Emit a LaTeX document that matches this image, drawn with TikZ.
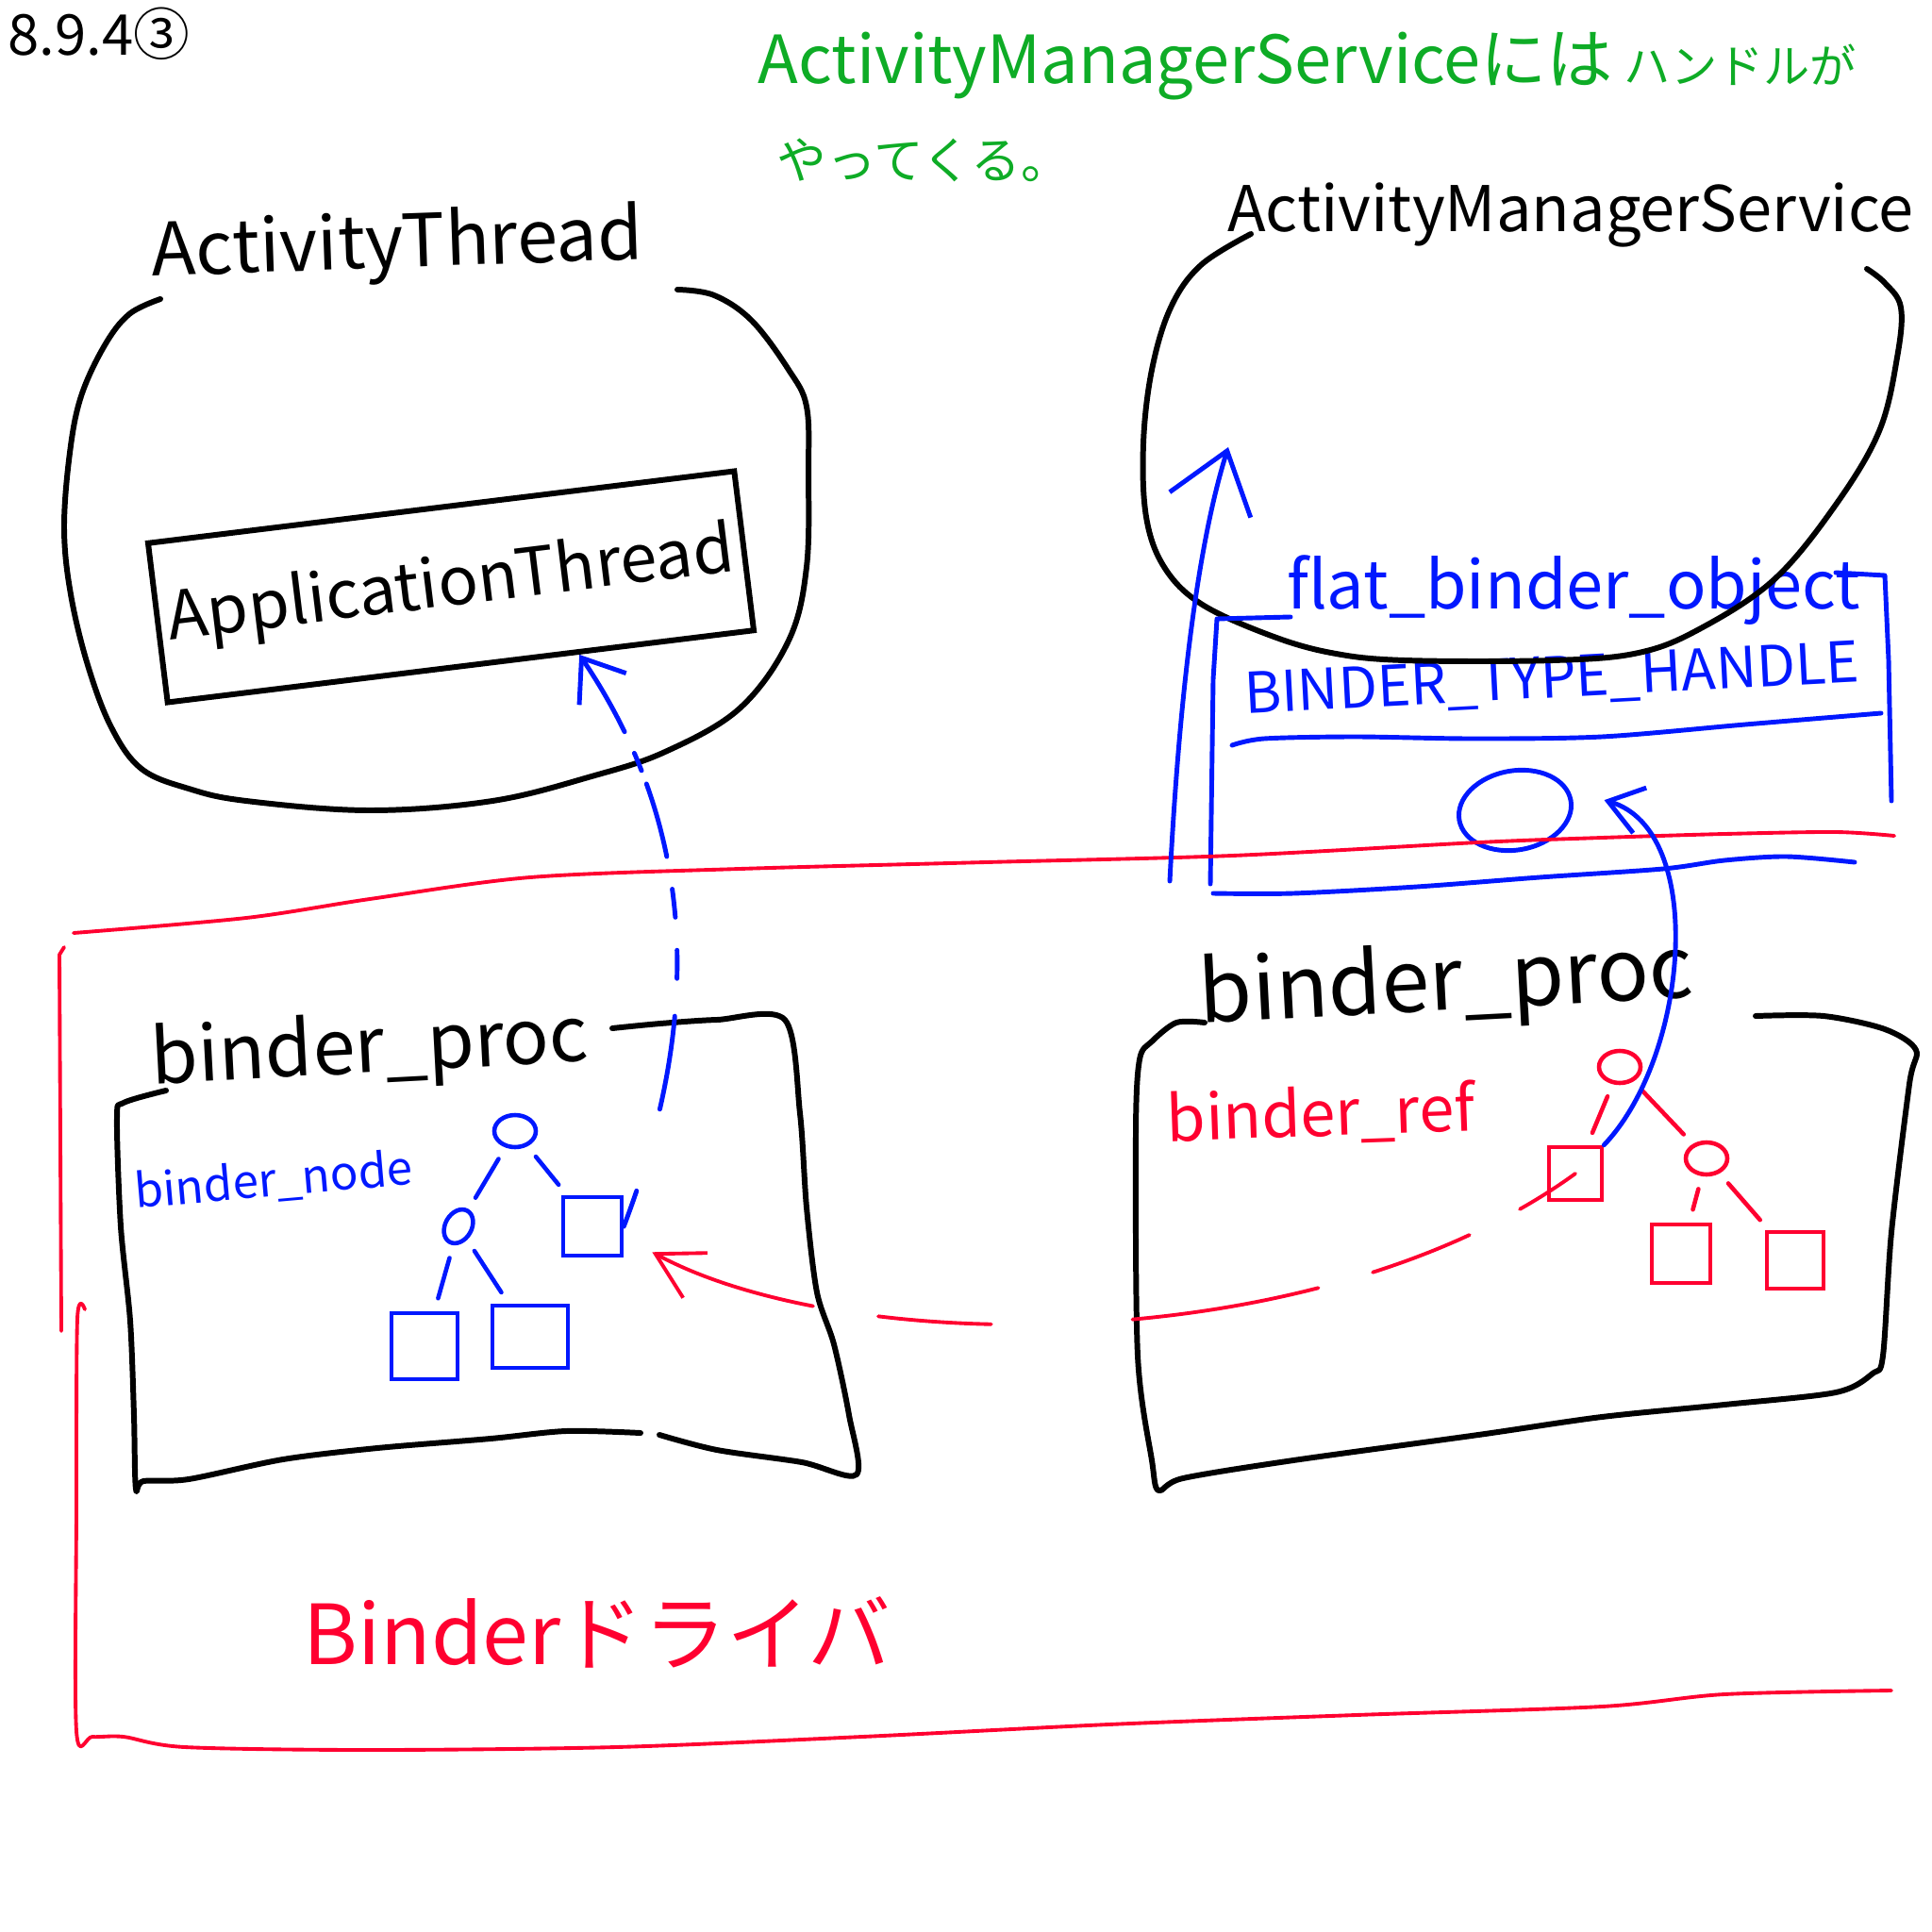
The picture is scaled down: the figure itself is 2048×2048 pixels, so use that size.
\documentclass[tikz,border=0pt]{standalone}
\usepackage{fontspec}
\setmainfont{Noto Sans CJK JP}
\usepackage{tikz}
\usetikzlibrary{arrows.meta,positioning,calc,shapes.geometric}
\definecolor{penblue}{RGB}{0,24,255}
\definecolor{penred}{RGB}{255,0,48}
\definecolor{pengreen}{RGB}{14,172,38}
\newcommand{\pen}[1]{\fontsize{#1}{#1}\selectfont}
\tikzset{
  ink/.style   ={draw, line width=1.7pt, line cap=round, line join=round},
  bink/.style  ={draw=penblue, line width=1.4pt, line cap=round, line join=round},
  rink/.style  ={draw=penred, line width=1.1pt, line cap=round, line join=round},
  knot/.style  ={ellipse, draw, line width=1.3pt, minimum width=4.4mm,
                 minimum height=3.4mm, inner sep=0pt},
  leaf/.style  ={rectangle, draw, line width=1.3pt, minimum size=6.2mm,
                 inner sep=0pt},
  twig/.style  ={line width=1.3pt, line cap=round, shorten <=1.4mm, shorten >=1.4mm},
  apbox/.style ={rectangle, draw, line width=1.7pt, rotate=7, minimum width=62.6mm,
                 minimum height=17mm, inner sep=0pt},
  word/.style  ={inner sep=0pt},
}

\begin{document}
\begin{tikzpicture}[x=0.1mm,y=-0.1mm]
\fill[white] (0,0) rectangle (2048,2048);
\useasboundingbox (0,0) rectangle (2048,2048);

% --- headings ---------------------------------------------------------
\node[word, font=\pen{17}] (secno) at (105,36) {8.9.4③};
\node[word, font=\pen{20}, text=pengreen, anchor=west] (memo) at (803,70)
  {ActivityManagerServiceには\,{\pen{14}ハンドルが}};
\node[word, font=\pen{15}, text=pengreen, below right=4mm and 2mm of memo.south west]
  (memob) {やってくる。};

% --- ActivityThread ---------------------------------------------------
\node[word, font=\pen{22}, rotate=2] (atname) at (421,262) {ActivityThread};
\draw[ink] plot[smooth, tension=0.6] coordinates {(170,317) (137,333) (111,366)
  (86,420) (74,480) (68,560) (75,630) (93,705) (118,771) (150,815) (200,836)
  (261,849) (392,859) (522,849) (627,823) (705,797) (784,751) (836,679)
  (855,601) (857,500) (855,431) (836,392) (797,340) (757,313) (718,307)};
\node[apbox, font=\pen{20}] (appthr) at (478,622) {ApplicationThread};

% --- ActivityManagerService -------------------------------------------
\node[word, font=\pen{19}] (amsname) at (1665,228) {ActivityManagerService};
\node[word, font=\pen{20}, text=penblue] (fbolbl) at (1668,626) {flat\_binder\_object};
\node[word, font=\pen{17}, text=penblue, rotate=3] (bthlbl) at (1645,722)
  {BINDER\_TYPE\_HANDLE};
\draw[ink] plot[smooth, tension=0.6] coordinates {(1326,248) (1273,281) (1241,326)
  (1221,392) (1212,470) (1215,548) (1234,601) (1273,640) (1345,673) (1411,692)
  (1489,700) (1646,700) (1737,692) (1803,666) (1881,614) (1946,535) (1992,457)
  (2011,379) (2015,326) (1998,300) (1979,285)};
\draw[bink] (1368,654) -- (1290,656) -- (1286,720) -- (1283,937);
\draw[bink] (1946,607) -- (1998,610) -- (2002,700) -- (2005,849);
\draw[bink] plot[smooth] coordinates {(1286,947) (1371,947) (1502,940) (1632,930)
  (1763,921) (1828,912) (1894,908) (1966,914)};
\draw[bink] plot[smooth] coordinates {(1306,790) (1340,783) (1437,781) (1560,783)
  (1698,781) (1850,768) (1994,756)};
\node[ellipse, draw=penblue, line width=1.4pt, minimum width=12mm,
  minimum height=8.4mm, rotate=10] (hdl) at (1606,859) {};

% --- Binder driver ----------------------------------------------------
\draw[rink] plot[smooth] coordinates {(78,989) (261,973) (392,953) (562,930)
  (784,921) (1045,914) (1306,907) (1567,893) (1698,888) (1828,884) (1946,882)
  (2008,886)};
\draw[rink] (68,1004) -- (63,1012) -- (65,1411);
\draw[rink] plot[smooth] coordinates {(90,1388) (82,1398) (81,1600) (81,1835)
  (98,1841) (131,1841) (196,1852) (392,1855) (653,1852) (914,1841) (1175,1828)
  (1437,1818) (1698,1809) (1828,1796) (2005,1792)};
\node[word, font=\pen{25}, text=penred] (drvlbl) at (633,1730) {Binderドライバ};

% --- binder_proc (client) ---------------------------------------------
\node[word, font=\pen{23}, rotate=3] (procA) at (392,1114) {binder\_proc};
\draw[ink] plot[smooth, tension=0.5] coordinates {(176,1156) (131,1169) (124,1185)
  (128,1300) (138,1400) (142,1500) (144,1578) (152,1570) (200,1568) (300,1547)
  (400,1535) (520,1525) (600,1517) (679,1519)};
\draw[ink] plot[smooth, tension=0.5] coordinates {(649,1090) (700,1085) (760,1081)
  (832,1081) (848,1180) (855,1280) (866,1370) (884,1425) (900,1500) (908,1563)
  (850,1550) (760,1537) (699,1521)};
\node[word, font=\pen{14}, text=penblue, rotate=5] (nodelbl) at (290,1252) {binder\_node};
\begin{scope}[penblue]
  \node[knot] (nroot) at (546,1199) {};
  \node[knot, rotate=60, minimum width=3.8mm, minimum height=2.8mm] (nl) at (486,1300) {};
  \node[leaf] (nr) at (628,1300) {};
  \node[leaf, minimum width=7mm, minimum height=7mm] (nll) at (450,1427) {};
  \node[leaf, minimum width=8mm, minimum height=6.6mm] (nlr) at (562,1417) {};
  \draw[twig] (nroot) -- (nl);
  \draw[twig] (nroot) -- (nr);
  \draw[twig] (nl) -- (nll);
  \draw[twig] (nl) -- (nlr);
\end{scope}

% --- binder_proc (system_server) --------------------------------------
\node[word, font=\pen{26}, rotate=3] (procB) at (1533,1045) {binder\_proc};
\draw[ink] plot[smooth, tension=0.5] coordinates {(1277,1084) (1247,1084)
  (1221,1104) (1208,1123) (1204,1200) (1206,1437) (1221,1548) (1228,1580)
  (1254,1567) (1371,1548) (1567,1521) (1698,1502) (1828,1489) (1946,1476)
  (1985,1456) (1996,1437) (2005,1306) (2024,1149) (2031,1113) (1998,1091)
  (1933,1077) (1861,1077)};
\node[word, font=\pen{19}, text=penred, rotate=2] (reflbl) at (1400,1182) {binder\_ref};
\begin{scope}[penred]
  \node[knot] (rroot) at (1717,1131) {};
  \node[leaf, minimum size=5.6mm] (rl) at (1670,1244) {};
  \node[knot] (rr) at (1809,1228) {};
  \node[leaf] (rrl) at (1782,1329) {};
  \node[leaf, minimum size=6mm] (rrr) at (1903,1336) {};
  \draw[twig] (rroot) -- (rl);
  \draw[twig] (rroot) -- (rr);
  \draw[twig] (rr) -- (rrl);
  \draw[twig] (rr) -- (rrr);
\end{scope}

% --- references -------------------------------------------------------
\coordinate (fbotail) at (1240,934);
\coordinate (amsin) at (1302,474);
\draw[bink, -{Straight Barb[length=6mm,width=9mm]}] (fbotail)
  .. controls (1252,700) and (1275,560) .. (amsin);
\draw[bink, -{Straight Barb[length=4mm,width=6mm]},
  dash pattern=on 4mm off 9mm on 10mm off 4mm on 3mm off 3.5mm on 3mm off 3.5mm
  on 8mm off 1.5mm on 2mm off 2.5mm on 12mm]
  (nr.east) .. controls (745,1080) and (740,880)
  .. ($(appthr.south)!0.4!(appthr.south east)$);
\draw[rink, -{Straight Barb[length=4.8mm,width=5.4mm]},
  dash pattern=on 7mm off 6mm on 11mm off 6mm on 20mm off 15mm on 12mm off 7mm on 40mm]
  (rl.center) .. controls (1400,1440) and (900,1440)
  .. ([xshift=3mm,yshift=0.6mm]nr.south east);
\draw[bink, -{Straight Barb[length=3.5mm,width=5mm]}] (rl.north east)
  .. controls (1790,1120) and (1810,880) .. ([xshift=3.3mm]hdl.east);
\end{tikzpicture}
\end{document}
